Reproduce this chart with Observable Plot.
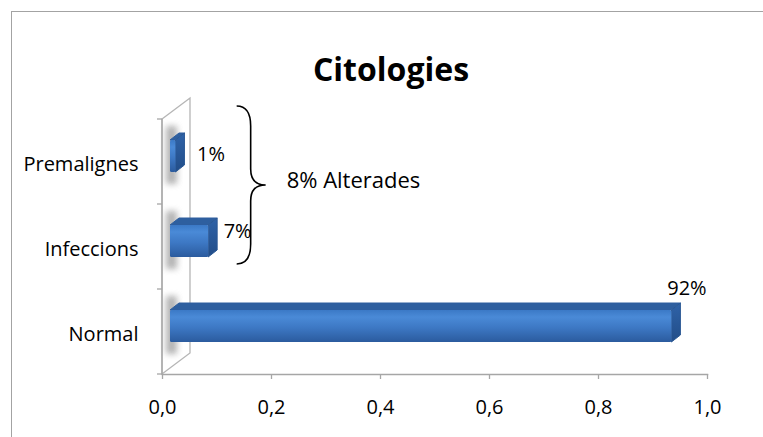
<!DOCTYPE html>
<html>
<head>
<meta charset="utf-8">
<script src="https://cdn.jsdelivr.net/npm/d3@7"></script>
<script src="https://cdn.jsdelivr.net/npm/@observablehq/plot@0.6"></script>
<style>
html, body { margin: 0; padding: 0; background: #fff; overflow: hidden; }
#wrap { position: relative; width: 763px; height: 437px; overflow: hidden; background: #fff; }
#chart { position: absolute; left: 0; top: 0; }
#border { position: absolute; left: 11px; top: 11px; width: 820px; height: 520px; border: 1.5px solid #a3a3a3; box-sizing: border-box; pointer-events: none; }
</style>
</head>
<body>
<div id="wrap"><div id="chart"></div><div id="border"></div></div>
<script>
// ---- data ----
const title = "Citologies";
const categories = ["Premalignes", "Infeccions", "Normal"];
const values = [0.01, 0.07, 0.92];
const valueLabels = ["1%", "7%", "92%"];
const xTicks = [0, 0.2, 0.4, 0.6, 0.8, 1.0];
const groupName = "Alterades";
const groupCategories = ["Premalignes", "Infeccions"];

const data = categories.map((category, i) => ({category, value: values[i], label: valueLabels[i]}));
const groupTotal = d3.sum(data.filter(d => groupCategories.includes(d.category)), d => d.value);
const groupText = `${Math.round(groupTotal * 100)}% ${groupName}`;

// ---- style constants ----
const FONT = "'Open Sans', sans-serif";
const X_OFF = 8, DEPTH_X = 9, DEPTH_Y = 7, FACE_T = 21, FACE_B = 53;
const WALL_DX = 28, WALL_DY = 21;
const GRAY = "#a6a6a6";
const BRACKET_AT = 0.137;

const fmt = d => d.toFixed(1).replace(".", ",");
const bandOf = y => (y.bandwidth ? y.bandwidth() : (y(categories[1]) - y(categories[0])));

function wallMark(index, scales) {
  const {x, y} = scales;
  const g = d3.create("svg:g");
  const defs = g.append("defs");
  defs.append("filter").attr("id", "wallBlur").attr("x", "-50%").attr("y", "-50%").attr("width", "200%").attr("height", "200%")
    .append("feGaussianBlur").attr("stdDeviation", 3);
  const bw = bandOf(y);
  const x0 = x(0);
  const top = y(categories[0]);
  const bot = y(categories[categories.length - 1]) + bw;
  g.append("polygon")
    .attr("points", [[x0, top], [x0 + WALL_DX, top - WALL_DY], [x0 + WALL_DX, bot - WALL_DY], [x0, bot]].map(p => p.join(",")).join(" "))
    .attr("fill", "#fff").attr("stroke", "#b5b5b5").attr("stroke-width", 1.3);
  data.forEach(d => {
    const t = y(d.category) + FACE_T, b = y(d.category) + FACE_B;
    g.append("rect").attr("x", x0 + 4).attr("y", t - 14).attr("width", 11).attr("height", b - t + 26)
      .attr("fill", "#808080").attr("opacity", 0.6).attr("filter", "url(#wallBlur)");
  });
  const bounds = categories.map(c => y(c)).concat([bot]);
  bounds.forEach(b => g.append("line").attr("x1", x0 - 5).attr("x2", x0).attr("y1", b).attr("y2", b)
    .attr("stroke", GRAY).attr("stroke-width", 1.3));
  g.append("line").attr("x1", x0).attr("x2", x0).attr("y1", top).attr("y2", bot).attr("stroke", GRAY).attr("stroke-width", 1.3);
  return g.node();
}

function barsMark(index, scales) {
  const {x, y} = scales;
  const g = d3.create("svg:g");
  const defs = g.append("defs");
  const front = defs.append("linearGradient").attr("id", "barFront").attr("x1", 0).attr("y1", 0).attr("x2", 0).attr("y2", 1);
  [[0, "#3b79c6"], [0.22, "#4a8ad7"], [0.55, "#3d78c4"], [1, "#2b5b9e"]]
    .forEach(([o, c]) => front.append("stop").attr("offset", o).attr("stop-color", c));
  const side = defs.append("linearGradient").attr("id", "barSide").attr("x1", 0).attr("y1", 0).attr("x2", 0).attr("y2", 1);
  [[0, "#2f63a8"], [1, "#224d88"]].forEach(([o, c]) => side.append("stop").attr("offset", o).attr("stop-color", c));
  data.forEach(d => {
    const xl = x(0) + X_OFF, xr = x(d.value) + X_OFF;
    const t = y(d.category) + FACE_T, b = y(d.category) + FACE_B;
    const pts = a => a.map(p => p.join(",")).join(" ");
    g.append("polygon").attr("points", pts([[xl, t], [xl + DEPTH_X, t - DEPTH_Y], [xr + DEPTH_X, t - DEPTH_Y], [xr, t]]))
      .attr("fill", "#2e5f9f").attr("stroke", "#2e5f9f").attr("stroke-width", 1).attr("stroke-linejoin", "round");
    g.append("polygon").attr("points", pts([[xr, t], [xr + DEPTH_X, t - DEPTH_Y], [xr + DEPTH_X, b - DEPTH_Y], [xr, b]]))
      .attr("fill", "url(#barSide)").attr("stroke", "#2a5894").attr("stroke-width", 1).attr("stroke-linejoin", "round");
    g.append("rect").attr("x", xl).attr("y", t).attr("width", xr - xl).attr("height", b - t).attr("rx", 1.5)
      .attr("fill", "url(#barFront)");
  });
  return g.node();
}

function bracketMark(index, scales) {
  const {x, y} = scales;
  const bw = bandOf(y);
  const top = y(groupCategories[0]) - 13;
  const bot = y(groupCategories[groupCategories.length - 1]) + bw - 25;
  const mid = (top + bot) / 2;
  const x0 = x(BRACKET_AT), x1 = x0 + 14, tip = x0 + 29;
  const g = d3.create("svg:g");
  const path = [
    `M${x0},${top}`,
    `C${x0 + 9},${top} ${x1},${top + 6} ${x1},${top + 20}`,
    `L${x1},${mid - 16}`,
    `C${x1},${mid - 5} ${x1 + 5},${mid} ${tip},${mid}`,
    `C${x1 + 5},${mid} ${x1},${mid + 5} ${x1},${mid + 16}`,
    `L${x1},${bot - 20}`,
    `C${x1},${bot - 6} ${x0 + 9},${bot} ${x0},${bot}`
  ].join(" ");
  g.append("path").attr("d", path).attr("fill", "none").attr("stroke", "#000").attr("stroke-width", 1.6);
  g.append("text").attr("x", tip + 21).attr("y", mid - 5).attr("dy", "0.35em").attr("text-anchor", "start")
    .attr("font-size", 22).attr("font-family", FONT).attr("fill", "#000").text(groupText);
  return g.node();
}

const labelMark = (cat, opts) => Plot.text(data.filter(d => d.category === cat),
  {x: "value", y: "category", text: "label", fontSize: 20, fill: "#000", ...opts});

const chart = Plot.plot({
  width: 763,
  height: 437,
  marginLeft: 162,
  marginRight: 56,
  marginTop: 118,
  marginBottom: 63,
  style: {fontFamily: FONT, fontSize: "20px", color: "#000", background: "transparent", overflow: "visible"},
  x: {domain: [0, 1], label: null},
  y: {type: "band", domain: categories, padding: 0, label: null},
  marks: [
    wallMark,
    Plot.frame({anchor: "bottom", stroke: GRAY, strokeWidth: 1.5}),
    Plot.axisX(xTicks, {tickSize: 5, tickPadding: 20, stroke: GRAY, fill: "#000", tickFormat: fmt, fontSize: 20, strokeWidth: 1.3, label: null}),
    Plot.axisY({tickSize: 0, tickPadding: 24, fill: "#000", fontSize: 20, dy: 2.5, label: null}),
    barsMark,
    labelMark("Premalignes", {textAnchor: "start", dx: 29, dy: -7}),
    labelMark("Infeccions", {textAnchor: "start", dx: 23, dy: -15}),
    labelMark("Normal", {textAnchor: "middle", dx: 23, dy: -43}),
    bracketMark,
    Plot.text([title], {frameAnchor: "top", dx: -44, dy: -60, fontSize: 32, fontWeight: "bold", fill: "#000"})
  ]
});
document.getElementById("chart").appendChild(chart);
</script>
</body>
</html>
